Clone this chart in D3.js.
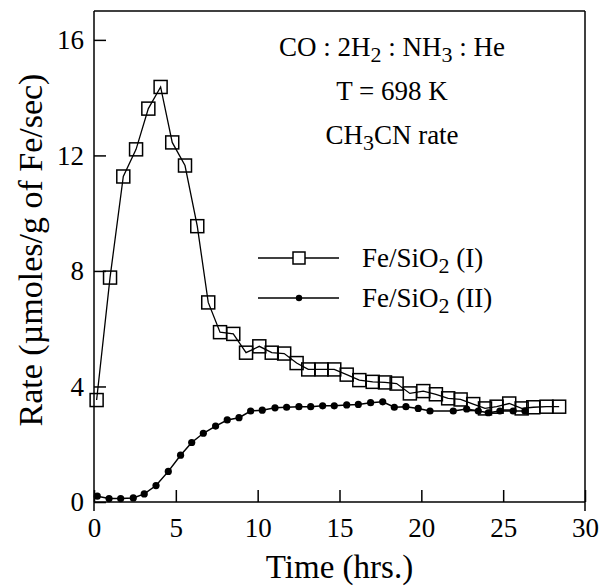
<!DOCTYPE html>
<html>
<head>
<meta charset="utf-8">
<script src="https://d3js.org/d3.v7.min.js"></script>
<style>
  body { margin: 0; background: #fff; }
  text { font-family: "Liberation Serif", "Times New Roman", serif; fill: #000; }
  .axis path { display: none; }
  .axis line { stroke: #000; stroke-width: 1.5px; }
  .axis text { font-size: 27px; font-family: "Liberation Serif", serif; }
</style>
</head>
<body>
<script>
// Fe/SiO2 (I) - open squares
var timeI = [0.16, 0.98, 1.79, 2.57, 3.32, 4.07, 4.78, 5.56, 6.31, 6.98, 7.70, 8.51, 9.29, 10.10, 10.86, 11.62, 12.38, 13.09, 13.91, 14.68, 15.44, 16.21, 17.03, 17.78, 18.49, 19.30, 20.12, 20.89, 21.64, 22.40, 23.17, 23.89, 24.60, 25.37, 26.13, 26.84, 27.65, 28.42];
var rateI = [3.53, 7.77, 11.27, 12.21, 13.62, 14.37, 12.45, 11.65, 9.55, 6.91, 5.88, 5.82, 5.17, 5.39, 5.17, 5.14, 4.81, 4.59, 4.59, 4.59, 4.41, 4.22, 4.16, 4.14, 4.10, 3.76, 3.84, 3.73, 3.59, 3.55, 3.39, 3.24, 3.30, 3.41, 3.24, 3.28, 3.30, 3.30];

// Fe/SiO2 (II) - filled dots
var timeII = [0.20, 0.92, 1.63, 2.40, 3.07, 3.79, 4.54, 5.29, 5.97, 6.68, 7.43, 8.14, 8.86, 9.57, 10.28, 11.06, 11.77, 12.52, 13.24, 13.97, 14.68, 15.44, 16.15, 16.90, 17.64, 18.35, 19.06, 19.81, 20.53, 21.95, 22.77, 23.48, 24.09, 24.80, 25.61, 26.33];
var rateII = [0.20, 0.12, 0.12, 0.14, 0.28, 0.57, 1.06, 1.62, 2.06, 2.38, 2.63, 2.84, 2.92, 3.15, 3.18, 3.26, 3.28, 3.30, 3.30, 3.33, 3.33, 3.36, 3.38, 3.44, 3.47, 3.28, 3.30, 3.24, 3.15, 3.15, 3.22, 3.15, 3.09, 3.15, 3.15, 3.15];

var xTicks = [0, 5, 10, 15, 20, 25, 30];
var yTicks = [0, 4, 8, 12, 16];

var width = 601, height = 587;
var mLeft = 94, mRight = 585, mTop = 11, mBottom = 502;

var svg = d3.select("body").append("svg")
    .attr("width", width)
    .attr("height", height);

var x = d3.scaleLinear().domain([0, 30]).range([mLeft, mRight]);
var y = d3.scaleLinear().domain([0, 17]).range([mBottom, mTop]);

// axes with inward ticks
svg.append("g")
    .attr("class", "axis")
    .attr("transform", "translate(0," + mBottom + ")")
    .call(d3.axisBottom(x).tickValues(xTicks).tickSize(-12).tickPadding(16).tickFormat(d3.format("d")));

svg.append("g")
    .attr("class", "axis")
    .attr("transform", "translate(" + mLeft + ",0)")
    .call(d3.axisLeft(y).tickValues(yTicks).tickSize(-12).tickPadding(10).tickFormat(d3.format("d")));

// frame
var frame = svg.append("g").attr("stroke", "#000").attr("stroke-width", 1.5).attr("fill", "none");
frame.append("line").attr("x1", mLeft).attr("x2", mLeft).attr("y1", mTop).attr("y2", mBottom + 9);
frame.append("line").attr("x1", mRight).attr("x2", mRight).attr("y1", mTop).attr("y2", mBottom + 9);
frame.append("line").attr("x1", mLeft).attr("x2", mRight).attr("y1", mTop).attr("y2", mTop);
frame.append("line").attr("x1", mLeft).attr("x2", mRight).attr("y1", mBottom).attr("y2", mBottom);

var dataI = timeI.map(function (t, i) { return {t: t, v: rateI[i]}; });
var dataII = timeII.map(function (t, i) { return {t: t, v: rateII[i]}; });

var line = d3.line()
    .x(function (d) { return x(d.t); })
    .y(function (d) { return y(d.v); });

svg.append("path")
    .datum(dataI)
    .attr("d", line)
    .attr("fill", "none")
    .attr("stroke", "#000")
    .attr("stroke-width", 1.3);

svg.append("path")
    .datum(dataII)
    .attr("d", line)
    .attr("fill", "none")
    .attr("stroke", "#000")
    .attr("stroke-width", 1.5);

var sq = 13;
svg.append("g").selectAll("rect")
    .data(dataI)
    .enter().append("rect")
    .attr("x", function (d) { return x(d.t) - sq / 2; })
    .attr("y", function (d) { return y(d.v) - sq / 2; })
    .attr("width", sq)
    .attr("height", sq)
    .attr("fill", "none")
    .attr("stroke", "#000")
    .attr("stroke-width", 1.5);

svg.append("g").selectAll("circle")
    .data(dataII)
    .enter().append("circle")
    .attr("cx", function (d) { return x(d.t); })
    .attr("cy", function (d) { return y(d.v); })
    .attr("r", 3.6)
    .attr("fill", "#000");

// text with subscripts: parts like [["CO : 2H"], ["2", true], ...]
function subText(g, xp, yb, anchor, parts, size) {
    var t = g.append("text")
        .attr("x", xp)
        .attr("y", yb)
        .attr("text-anchor", anchor)
        .style("font-size", size + "px");
    var shifted = false;
    parts.forEach(function (p) {
        var ts = t.append("tspan").text(p[0]);
        if (p[1]) {
            ts.attr("dy", 6).style("font-size", Math.round(size * 0.8) + "px");
            shifted = true;
        } else if (shifted) {
            ts.attr("dy", -6);
            shifted = false;
        }
    });
    return t;
}

subText(svg, 392, 56, "middle", [["CO : 2H"], ["2", true], [" : NH"], ["3", true], [" : He"]], 27);
subText(svg, 392, 100, "middle", [["T = 698 K"]], 27);
subText(svg, 392, 144, "middle", [["CH"], ["3", true], ["CN rate"]], 27);

// legend
var legend = svg.append("g");
legend.append("line").attr("x1", 258).attr("x2", 339).attr("y1", 258).attr("y2", 258)
    .attr("stroke", "#000").attr("stroke-width", 1.5);
legend.append("rect").attr("x", 293).attr("y", 252).attr("width", 12).attr("height", 12)
    .attr("fill", "#fff").attr("stroke", "#000").attr("stroke-width", 1.5);
legend.append("line").attr("x1", 258).attr("x2", 339).attr("y1", 298).attr("y2", 298)
    .attr("stroke", "#000").attr("stroke-width", 1.5);
legend.append("circle").attr("cx", 299).attr("cy", 298).attr("r", 3.2).attr("fill", "#000");

subText(legend, 362, 267, "start", [["Fe/SiO"], ["2", true], [" (I)"]], 27);
subText(legend, 362, 307, "start", [["Fe/SiO"], ["2", true], [" (II)"]], 27);

// axis titles
svg.append("text")
    .attr("x", (mLeft + mRight) / 2)
    .attr("y", 578)
    .attr("text-anchor", "middle")
    .style("font-size", "33px")
    .text("Time (hrs.)");

svg.append("text")
    .attr("transform", "translate(42,250) rotate(-90)")
    .attr("text-anchor", "middle")
    .style("font-size", "34px")
    .text("Rate (\u00b5moles/g of Fe/sec)");
</script>
</body>
</html>
